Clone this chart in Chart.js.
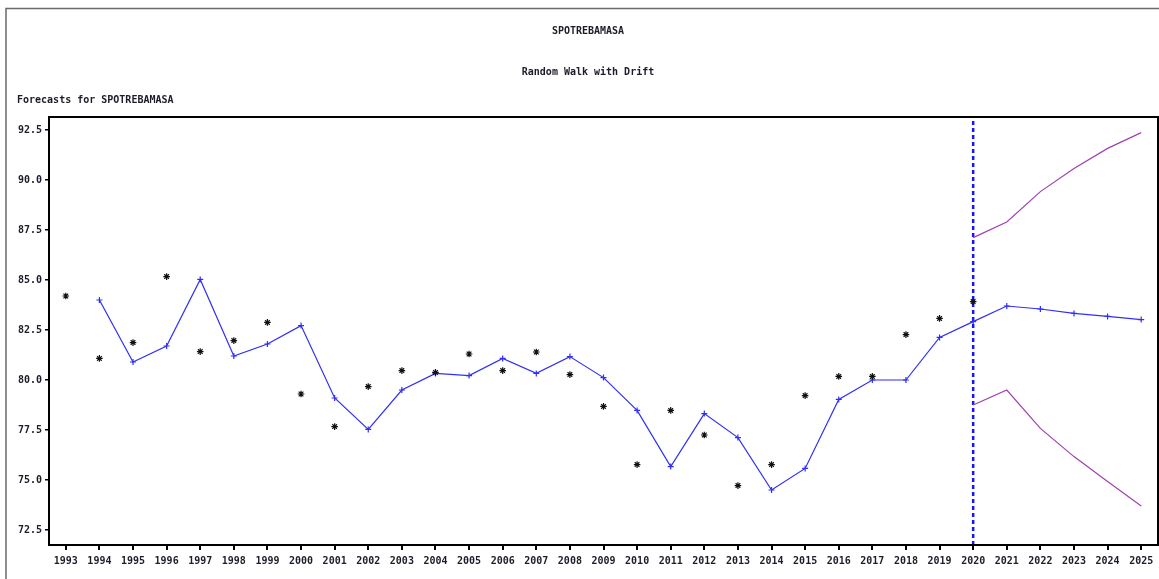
<!DOCTYPE html>
<html>
<head>
<meta charset="utf-8">
<script src="https://cdn.jsdelivr.net/npm/chart.js@4/dist/chart.umd.min.js"></script>
<style>
  html, body { margin: 0; padding: 0; background: #fff; }
  canvas { display: block; }
</style>
</head>
<body>
<canvas id="grafica" width="1159" height="579"></canvas>
<script type="text/javascript">

    // Years on the x axis
    var years = []
    for (let y = 1993; y <= 2025; y++) years.push(y)

    // Observed values, 1993 - 2020 (the * marks)
    var actualYears = years.filter(y => y <= 2020)
    var actual = [84.2, 81.08, 81.87, 85.17, 81.42, 81.97, 82.88, 79.3, 77.67, 79.67,
                  80.47, 80.38, 81.3, 80.47, 81.4, 80.27, 78.68, 75.77, 78.48, 77.25,
                  74.72, 75.77, 79.22, 80.18, 80.18, 82.27, 83.08, 83.92]

    // Fitted values and forecasts, 1994 - 2025 (blue line with + marks)
    var fittedYears = years.filter(y => y >= 1994)
    var fitted = [84.0, 80.9, 81.7, 85.03, 81.2, 81.8, 82.72, 79.1, 77.53, 79.5,
                  80.33, 80.22, 81.08, 80.33, 81.17, 80.12, 78.48, 75.67, 78.32, 77.12,
                  74.5, 75.58, 79.03, 80.0, 80.0, 82.13, 82.92, 83.7, 83.55, 83.33,
                  83.18, 83.02]

    // Forecast limits, 2020 - 2025
    var forecastStart = 2020
    var limitYears = years.filter(y => y >= forecastStart)
    var upper = [87.12, 87.9, 89.42, 90.58, 91.58, 92.37]
    var lower = [78.75, 79.5, 77.58, 76.17, 74.92, 73.7]

    // Axis
    var yTicks = [72.5, 75.0, 77.5, 80.0, 82.5, 85.0, 87.5, 90.0, 92.5]
    var yMin = 71.75
    var yMax = 93.15

    function puntos(xs, ys) {
        return xs.map((x, i) => ({x: x, y: ys[i]}))
    }

    var fuente = {family: "'DejaVu Sans Mono', monospace", size: 10, weight: 'bold'}
    var colorTexto = '#1c1c2a'

    // plot border + outer frame + left caption
    var marco = {
        id: 'marco',
        beforeDraw(chart) {
            let ctx = chart.ctx
            ctx.save()
            ctx.strokeStyle = '#6a6a6a'
            ctx.lineWidth = 1.5
            ctx.beginPath()
            ctx.moveTo(6, 579)
            ctx.lineTo(6, 8.5)
            ctx.lineTo(1159, 8.5)
            ctx.stroke()
            ctx.fillStyle = colorTexto
            ctx.font = "bold 10px 'DejaVu Sans Mono', monospace"
            ctx.textBaseline = 'middle'
            ctx.fillText('Forecasts for SPOTREBAMASA', 17, 100)
            ctx.restore()
        },
        afterDraw(chart) {
            let a = chart.chartArea
            let ctx = chart.ctx
            ctx.save()
            ctx.strokeStyle = '#000'
            ctx.lineWidth = 2
            ctx.strokeRect(a.left, a.top, a.right - a.left, a.bottom - a.top)
            ctx.restore()
        }
    }

    var canvas = document.getElementById('grafica')
    var context = canvas.getContext('2d')

    var grafica = new Chart(context, {
        type: 'line',
        data: {
            datasets: [{
                label: 'Actual',
                data: puntos(actualYears, actual),
                showLine: false,
                pointStyle: 'star',
                pointRadius: 3.3,
                pointBorderColor: '#111',
                pointBorderWidth: 1.2,
                borderColor: '#111'
            }, {
                label: 'Fitted',
                data: puntos(fittedYears, fitted),
                borderColor: '#2f2ff5',
                borderWidth: 1.2,
                pointStyle: 'cross',
                pointRadius: 3,
                pointBorderColor: '#2f2ff5',
                pointBorderWidth: 1.2,
                tension: 0
            }, {
                label: 'Upper',
                data: puntos(limitYears, upper),
                borderColor: '#a040b0',
                borderWidth: 1.2,
                pointRadius: 0,
                tension: 0
            }, {
                label: 'Lower',
                data: puntos(limitYears, lower),
                borderColor: '#a040b0',
                borderWidth: 1.2,
                pointRadius: 0,
                tension: 0
            }, {
                label: 'Origin',
                data: [{x: forecastStart, y: yMin}, {x: forecastStart, y: yMax}],
                borderColor: '#1414ff',
                borderWidth: 2.5,
                borderDash: [4, 3],
                pointRadius: 0
            }]
        },
        options: {
            responsive: false,
            animation: false,
            devicePixelRatio: 1,
            layout: {autoPadding: false, padding: {left: 18, right: 1, top: 0, bottom: 0}},
            plugins: {
                legend: {display: false},
                tooltip: {enabled: false},
                title: {
                    display: true,
                    text: 'SPOTREBAMASA',
                    color: colorTexto,
                    font: fuente,
                    padding: {top: 25, bottom: 0}
                },
                subtitle: {
                    display: true,
                    text: 'Random Walk with Drift',
                    color: colorTexto,
                    font: fuente,
                    padding: {top: 29, bottom: 39}
                }
            },
            scales: {
                x: {
                    type: 'linear',
                    min: 1992.5,
                    max: 2025.5,
                    afterBuildTicks: s => { s.ticks = years.map(v => ({value: v})) },
                    afterFit: s => { s.height = 34; s.paddingLeft = 0; s.paddingRight = 0 },
                    grid: {drawOnChartArea: false, drawTicks: true, tickLength: 5, color: '#000', lineWidth: 2},
                    border: {display: true, color: '#000', width: 2},
                    ticks: {
                        autoSkip: false,
                        maxRotation: 0,
                        padding: 5,
                        color: colorTexto,
                        font: fuente,
                        callback: v => String(v)
                    }
                },
                y: {
                    min: yMin,
                    max: yMax,
                    afterBuildTicks: s => { s.ticks = yTicks.map(v => ({value: v})) },
                    afterFit: s => { s.width = 31 },
                    grid: {drawOnChartArea: false, drawTicks: true, tickLength: 4, color: '#000', lineWidth: 1.5},
                    border: {display: true, color: '#000', width: 2},
                    ticks: {
                        padding: 3,
                        color: colorTexto,
                        font: fuente,
                        callback: v => Number(v).toFixed(1)
                    }
                }
            }
        },
        plugins: [marco]
    });

</script>
</body>
</html>
